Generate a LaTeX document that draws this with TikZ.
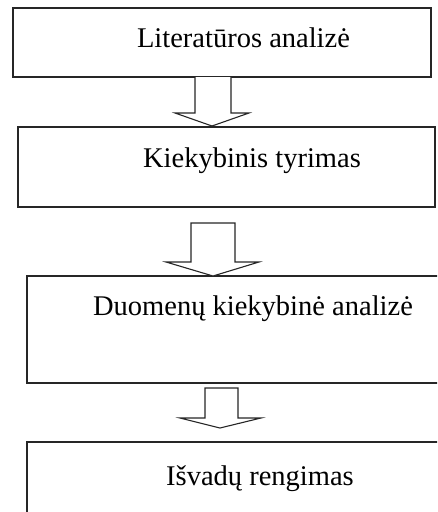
\documentclass[tikz,border=0pt]{standalone}
\usepackage{fontspec}
\setmainfont{Liberation Serif}
\begin{document}
\begin{tikzpicture}[x=1pt,y=-1pt,
  box/.style={draw=black!85, line width=1.3pt, rectangle, inner sep=0pt, outer sep=0pt},
  lbl/.style={font=\fontsize{28.5}{34}\selectfont, anchor=base, inner sep=0pt},
  blockarrow/.style={draw=black!85, line width=1.1pt, fill=white, line join=miter}]
\useasboundingbox (0,0) rectangle (437,512);
\clip (0,0) rectangle (437,512);
% boxes
\node[box, minimum width=418pt, minimum height=69pt] (b1) at (222,42.5) {};
\node[box, minimum width=417pt, minimum height=80pt] (b2) at (226.5,167) {};
\node[box, minimum width=420pt, minimum height=107pt] (b3) at (237,329.5) {};
\node[box, minimum width=420pt, minimum height=90pt] (b4) at (237,487) {};
% texts
\node[lbl] (t1) at (243.5,47) {Literatūros analizė};
\node[lbl] (t2) at (252,167) {Kiekybinis tyrimas};
\node[lbl] (t3) at (253,315) {Duomenų kiekybinė analizė};
\node[lbl] (t4) at (260,485) {Išvadų rengimas};
% block arrows
\draw[blockarrow] (195,77) -- (195,113) -- (175,113) -- (212,126) -- (249,113) -- (231,113) -- (231,77);
\draw[blockarrow] (191,223) -- (235,223) -- (235,262) -- (259,262) -- (213,276) -- (166,262) -- (191,262) -- cycle;
\draw[blockarrow] (205,388) -- (238,388) -- (238,418) -- (261,418) -- (220,428) -- (180,418) -- (205,418) -- cycle;
\end{tikzpicture}
\end{document}
